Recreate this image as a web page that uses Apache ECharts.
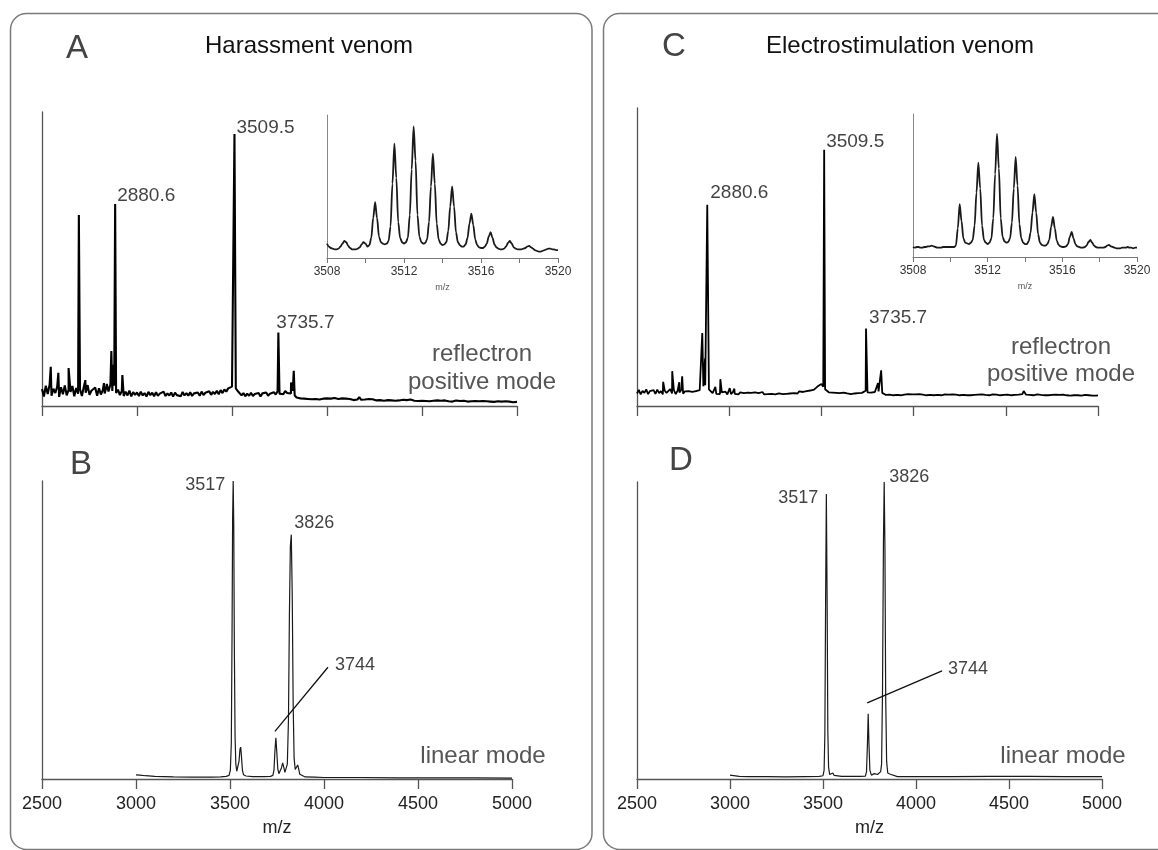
<!DOCTYPE html>
<html>
<head>
<meta charset="utf-8">
<script src="https://cdn.jsdelivr.net/npm/echarts@6.0.0/dist/echarts.min.js"></script>
<style>
html, body { margin: 0; padding: 0; background: #fff; }
#chart { width: 1158px; height: 850px; }
</style>
</head>
<body>
<div id="chart"></div>
<script>
const FONT = '"Liberation Sans", Arial, Helvetica, sans-serif'

// m/z ticks of the four main spectra
const mzTicks = [2500, 3000, 3500, 4000, 4500, 5000]

// reflectron spectra: baseline sampled every 10 m/z from 2500 to 5000
const reflStart = 2500
const reflStep = 10
const baseA = [
  5.8, 3.2, 6.9, 4.1, 7.2, 3.5, 5.9, 4.4, 6.6, 3.1,
  6.4, 4.0, 7.0, 3.6, 5.5, 4.8, 6.8, 3.3, 6.1, 4.2,
  5.7, 3.4, 6.5, 4.5, 7.1, 3.8, 5.2, 4.6, 6.3, 3.5,
  6.0, 3.9, 5.4, 4.3, 6.7, 4.9, 7.3, 5.1, 6.9, 4.4,
  5.6, 3.7, 5.1, 3.4, 4.9, 3.6, 5.2, 3.3, 4.7, 3.8,
  4.6, 3.4, 4.9, 3.6, 4.4, 3.2, 4.8, 3.7, 4.5, 3.3,
  4.7, 3.5, 4.2, 3.8, 4.9, 3.4, 4.3, 3.6, 4.6, 3.2,
  4.5, 3.7, 4.1, 3.3, 4.8, 3.6, 4.4, 3.5, 4.7, 3.4,
  4.3, 3.8, 4.6, 3.5, 4.9, 3.7, 4.5, 3.9, 5.0, 3.8,
  4.8, 4.1, 5.2, 4.0, 5.4, 4.4, 5.6, 4.9, 6.0, 5.8,
  6.6, 7.2, 6.0, 5.1, 4.6, 3.6, 4.4, 3.3, 4.2, 3.5,
  4.5, 3.4, 4.1, 3.6, 4.4, 3.2, 4.3, 3.7, 4.6, 3.5,
  4.2, 3.8, 4.7, 3.9, 5.0, 4.2, 4.6, 4.0, 5.1, 4.4,
  4.9, 4.3, 5.2, 3.6, 2.9, 3.1, 2.6, 3.0, 2.5, 2.9,
  2.4, 2.8, 2.3, 2.7, 2.4, 2.9, 2.2, 2.6, 2.5, 2.3,
  2.6, 2.2, 2.5, 2.1, 2.7, 2.3, 2.4, 2.0, 2.6, 2.2,
  2.5, 2.1, 2.4, 2.3, 2.0, 2.5, 2.2, 3.0, 2.1, 2.4,
  2.2, 1.9, 2.4, 2.0, 2.3, 2.1, 1.9, 2.4, 2.0, 2.2,
  1.8, 2.3, 2.0, 2.1, 1.9, 2.2, 1.8, 2.1, 1.9, 2.0,
  2.1, 1.8, 2.0, 1.7, 2.2, 1.9, 1.8, 2.1, 1.7, 2.0,
  1.8, 2.0, 1.7, 1.9, 1.6, 2.0, 1.8, 1.7, 1.9, 1.6,
  1.8, 1.5, 1.9, 1.7, 1.6, 1.8, 1.5, 1.7, 1.9, 1.6,
  1.7, 1.5, 1.8, 1.6, 1.5, 1.7, 1.6, 1.4, 1.7, 1.5,
  1.6, 1.4, 1.7, 1.5, 1.6, 1.4, 1.5, 1.6, 1.4, 1.5,
  1.6, 1.3, 1.5, 1.4, 1.6, 1.3, 1.5, 1.4, 1.3, 1.5,
  1.4
]
const peaksA = [
  [2546, 13.3], [2586, 11.3], [2640, 12.9], [2694, 65], [2728, 8.8],
  [2826, 7.8], [2841, 7.5], [2865, 18.7], [2875, 14], [2885, 68.7],
  [2923, 10.5], [3513, 92.5], [3744, 25], [3811, 8], [3825, 12], [4171, 3.2]
]
const baseC = [
  4.2, 5.4, 3.9, 5.1, 4.4, 5.6, 4.0, 5.0, 4.6, 5.3,
  4.1, 5.5, 4.3, 5.0, 3.9, 5.2, 4.4, 4.8, 5.7, 4.2,
  5.3, 4.0, 5.1, 4.5, 5.4, 4.1, 4.9, 4.3, 5.0, 4.4,
  4.7, 4.2, 5.0, 4.4, 5.3, 5.9, 6.6, 7.0, 6.4, 5.6,
  5.0, 4.3, 4.9, 4.1, 4.7, 4.0, 4.6, 4.2, 4.8, 3.9,
  4.5, 4.0, 4.7, 4.1, 4.4, 3.9, 4.6, 4.0, 4.3, 3.8,
  4.5, 4.1, 4.4, 3.9, 4.6, 4.0, 4.3, 4.2, 4.7, 3.9,
  4.4, 4.0, 4.6, 4.1, 4.3, 3.9, 4.5, 4.2, 4.4, 4.0,
  4.6, 4.1, 4.5, 4.2, 4.8, 4.3, 4.6, 4.2, 4.9, 4.4,
  4.7, 4.5, 5.0, 4.6, 5.2, 4.8, 5.5, 5.9, 6.6, 6.9,
  7.4, 6.5, 5.6, 5.0, 4.6, 4.2, 4.5, 4.0, 4.4, 3.9,
  4.3, 4.0, 4.5, 4.1, 4.2, 4.4, 4.0, 4.6, 4.2, 4.5,
  4.3, 4.7, 4.4, 4.9, 5.1, 4.6, 4.8, 4.5, 5.0, 4.7,
  5.2, 4.9, 5.4, 4.4, 4.0, 3.7, 4.1, 3.8, 4.0, 3.6,
  3.9, 3.7, 4.1, 3.6, 3.9, 3.8, 3.6, 4.0, 3.7, 3.9,
  3.6, 3.9, 3.7, 4.0, 3.6, 3.8, 3.9, 3.6, 3.8, 3.7,
  3.9, 3.6, 3.8, 3.7, 4.2, 3.6, 3.8, 3.9, 3.6, 3.8,
  3.7, 3.9, 3.6, 3.8, 3.7, 3.6, 3.9, 3.7, 3.8, 3.6,
  3.8, 3.6, 4.0, 3.7, 3.6, 3.8, 3.7, 3.9, 3.6, 3.7,
  3.8, 3.6, 3.7, 3.9, 3.6, 3.8, 3.7, 3.6, 3.8, 3.7,
  3.6, 3.8, 3.7, 3.6, 3.9, 3.7, 3.6, 3.8, 3.7, 4.0,
  4.4, 3.8, 3.6, 3.7, 3.8, 3.6, 3.7, 3.9, 3.6, 3.7,
  3.8, 3.6, 3.7, 3.6, 3.8, 3.7, 3.6, 3.8, 3.6, 3.7,
  3.6, 3.8, 3.7, 3.6, 3.7, 3.5, 3.7, 3.6, 3.8, 3.6,
  3.7, 3.5, 3.6, 3.7, 3.5, 3.6, 3.7, 3.5, 3.6, 3.5,
  3.6
]
const peaksC = [
  [2642, 8.1], [2691, 11.7], [2729, 8], [2745, 10], [2854, 24.5],
  [2869, 16], [2881, 67.5], [2925, 6.4], [2952, 9], [3003, 6], [3028, 5.8],
  [3515, 86], [3742, 26], [3807, 7.7], [3824, 12], [4597, 5]
]

// linear mode spectra
const linMzB = [
  3000, 3008, 3020, 3050, 3100, 3200, 3300, 3400, 3450, 3480,
  3495, 3502, 3507, 3511, 3514, 3517, 3520, 3523, 3527, 3531,
  3536, 3542, 3548, 3553, 3557, 3561, 3566, 3572, 3585, 3620,
  3680, 3715, 3728, 3734, 3739, 3744, 3749, 3754, 3760, 3766,
  3774, 3780, 3786, 3792, 3798, 3805, 3811, 3816, 3821, 3826,
  3831, 3836, 3841, 3847, 3853, 3860, 3865, 3871, 3880, 3900,
  3950, 4000, 4200, 4400, 4600, 4800, 5000
]
const linIntB = [
  1.4, 1.6, 1.3, 1.1, 0.9, 0.7, 0.6, 0.6, 0.7, 0.9,
  1.2, 3, 12, 50, 88, 100, 85, 45, 14, 5,
  2.6, 2.8, 6, 10, 10.7, 7.5, 3, 1.4, 1.0, 0.8,
  0.8, 0.9, 1.2, 3, 9.5, 13.8, 9, 3.5, 1.8, 2.0,
  3.8, 5.4, 4, 2.2, 2.4, 5, 20, 55, 78, 82,
  62, 25, 7, 3.2, 3.8, 4.7, 3.5, 1.6, 1.0, 0.7,
  0.6, 0.5, 0.5, 0.4, 0.4, 0.4, 0.3
]
const linMzD = [
  3000, 3010, 3050, 3100, 3200, 3300, 3400, 3480, 3500, 3506,
  3510, 3514, 3518, 3522, 3526, 3530, 3536, 3545, 3553, 3560,
  3600, 3700, 3728, 3734, 3739, 3743, 3747, 3752, 3760, 3770,
  3776, 3781, 3786, 3793, 3800, 3810, 3815, 3820, 3825, 3829,
  3833, 3837, 3842, 3848, 3855, 3862, 3870, 3900, 4000, 4200,
  4400, 4590, 4600, 4610, 4800, 5000
]
const linIntD = [
  1.3, 1.0, 0.9, 0.8, 0.8, 0.7, 0.8, 0.9, 1.1, 3,
  15, 60, 96, 62, 16, 4, 1.5, 1.2, 2.0, 1.2,
  0.9, 0.9, 1.0, 2.5, 12, 22, 12, 3, 1.3, 1.2,
  1.8, 2.4, 1.8, 1.5, 1.6, 2.5, 5, 30, 80, 100,
  78, 28, 6, 2, 1.4, 1.6, 1.0, 0.8, 0.8, 0.8,
  0.9, 0.9, 1.5, 0.9, 0.8, 0.8
]

// isotope insets, every 0.1 m/z from 3508 to 3520
const insetStart = 3508
const insetStep = 0.1
const insetTicks = [3508, 3512, 3516, 3520]
const insetA = [
  10, 8, 7, 6.5, 6, 6, 6.5, 8, 10, 12,
  11, 8.5, 7, 6, 6, 6, 6.5, 7.5, 9.5, 11,
  10, 8, 9, 14, 28, 39, 28, 15, 11, 10,
  9.5, 10, 12, 22, 52, 80, 56, 25, 14, 11,
  10, 11, 14, 30, 62, 92, 68, 30, 15, 11,
  10, 10.5, 13, 25, 50, 73, 52, 24, 13, 10,
  9, 9.5, 11, 19, 36, 50, 36, 18, 11, 9,
  8, 8, 9.5, 14, 24, 31, 23, 13, 9, 7.5,
  7, 7, 8, 10, 15, 18, 14, 9.5, 7.5, 6.5,
  6, 6, 6.5, 8, 10.5, 12, 10, 7.5, 6.5, 6,
  6, 6, 6.5, 7, 8, 8.5, 7.5, 6.5, 5.5, 5,
  4.5, 4.5, 5, 5.5, 6, 6.5, 6.5, 6, 6, 5.5,
  5.5
]
const insetC = [
  7, 6.5, 7, 7, 6.5, 6.5, 7, 7, 7.5, 7.5,
  8, 7.5, 7, 6.5, 6.5, 6.5, 7, 7, 7, 7,
  7, 7, 7, 8, 20, 37, 25, 13, 10, 9.5,
  9, 10, 12, 22, 45, 66, 48, 22, 12, 10,
  9, 10, 13, 27, 58, 86, 62, 27, 14, 11,
  10, 10.5, 13, 24, 48, 70, 50, 23, 13, 10,
  9, 9, 11, 17, 31, 44, 31, 16, 10, 8.5,
  8, 8, 9, 12, 21, 28, 20, 11.5, 8.5, 7.5,
  7, 7, 7.5, 9, 14, 17.5, 13, 9, 7.5, 7,
  6.5, 6.5, 7, 8, 10.5, 12, 10, 8, 7, 6.5,
  6.5, 6.5, 6.5, 7, 8, 8.5, 7.5, 7, 6.5, 6,
  6, 6, 6.5, 6.5, 6.5, 7, 6.5, 6.5, 6, 6.5,
  6.5
]

// peak annotations: [m/z, intensity, text]
const labelsA = [[3513, 92.5, '3509.5'], [2885, 68.7, '2880.6'], [3744, 25, '3735.7']]
const labelsC = [[3515, 86, '3509.5'], [2881, 67.5, '2880.6'], [3742, 26, '3735.7']]
const labelsB = [[3517, 100, '3517'], [3826, 82, '3826']]
const labelsD = [[3518, 96, '3517'], [3829, 100, '3826']]
const leaderB = [[3739, 16], [4021, 37.5]]
const leaderD = [[3738, 25.6], [4140, 36.4]]
const leaderText = '3744'

function reflSeries(base, peaks) {
  const pts = base.map((v, i) => [reflStart + i * reflStep, v])
  peaks.forEach(p => pts.push(p))
  return pts.sort((a, b) => a[0] - b[0])
}
function pairs(xs, ys) {
  return xs.map((x, i) => [x, ys[i]])
}
function insetSeries(vals) {
  return vals.map((v, i) => [+(insetStart + i * insetStep).toFixed(1), v])
}

const axisColor = '#555'

function mainX(gridIndex, withLabels) {
  return {
    type: 'value', gridIndex,
    min: mzTicks[0], max: mzTicks[mzTicks.length - 1], interval: 500,
    axisLine: { lineStyle: { color: axisColor, width: 1.3 } },
    axisTick: { length: 10, lineStyle: { color: axisColor, width: 1.3 } },
    axisLabel: {
      show: withLabels, fontSize: 18, color: '#222', fontFamily: FONT, margin: 16,
      showMinLabel: true, showMaxLabel: true,
      formatter: v => String(v)
    },
    splitLine: { show: false },
    name: withLabels ? 'm/z' : '',
    nameLocation: 'middle', nameGap: 40,
    nameTextStyle: { fontSize: 18, color: '#222', fontFamily: FONT }
  }
}
function insetX(gridIndex) {
  return {
    type: 'value', gridIndex, min: insetTicks[0], max: insetTicks[insetTicks.length - 1], interval: 2,
    axisLine: { lineStyle: { color: '#777', width: 1 } },
    axisTick: { length: 5, lineStyle: { color: '#777', width: 1 } },
    axisLabel: {
      fontSize: 12, color: '#333', fontFamily: FONT, margin: 8,
      formatter: v => insetTicks.includes(v) ? String(v) : ''
    },
    splitLine: { show: false },
    name: 'm/z', nameLocation: 'middle', nameGap: 25,
    nameTextStyle: { fontSize: 9, color: '#555', fontFamily: FONT }
  }
}
function plainY(gridIndex, color, width) {
  return {
    type: 'value', gridIndex, min: 0, max: 100,
    axisLine: { show: true, lineStyle: { color, width } },
    axisTick: { show: false }, axisLabel: { show: false }, splitLine: { show: false }
  }
}
function spectrum(idx, data, width, color) {
  return {
    type: 'line', xAxisIndex: idx, yAxisIndex: idx, data,
    showSymbol: false, symbol: 'none', silent: true,
    lineStyle: { color, width }
  }
}

// label style per annotation (align, vertical align, offset)
const lblLeftTop = (dx, dy) => ({ align: 'left', verticalAlign: 'bottom', offset: [dx, dy] })
const lblRightMid = (dx, dy) => ({ align: 'right', verticalAlign: 'middle', offset: [dx, dy] })
const lblLeftMid = (dx, dy) => ({ align: 'left', verticalAlign: 'middle', offset: [dx, dy] })

function labelSeries(idx, items, styles, size) {
  return {
    type: 'scatter', xAxisIndex: idx, yAxisIndex: idx, symbolSize: 1, silent: true,
    itemStyle: { color: 'rgba(0,0,0,0)' },
    label: { show: true, position: 'inside', fontSize: size, color: '#111', fontFamily: FONT },
    data: items.map((it, i) => ({
      value: [it[0], it[1]],
      label: Object.assign({ formatter: it[2] }, styles[i])
    }))
  }
}

const txt = (text, x, y, size, fill, align) => ({
  type: 'text', x, y, silent: true,
  style: { text, fontSize: size, fontFamily: FONT, fill, align: align || 'center', verticalAlign: 'middle' }
})

const chart = echarts.init(document.getElementById('chart'), null, { renderer: 'canvas' })
chart.setOption({
  animation: false,
  backgroundColor: '#fff',
  grid: [
    { left: 42, top: 112, width: 475, height: 294 },
    { left: 42, top: 481, width: 470, height: 298 },
    { left: 637, top: 108, width: 461, height: 298 },
    { left: 637, top: 482, width: 465, height: 297 },
    { left: 327, top: 115, width: 231, height: 143 },
    { left: 913, top: 114, width: 224, height: 143 }
  ],
  xAxis: [mainX(0, false), mainX(1, true), mainX(2, false), mainX(3, true), insetX(4), insetX(5)],
  yAxis: [
    plainY(0, axisColor, 1.3), plainY(1, axisColor, 1.3), plainY(2, axisColor, 1.3),
    plainY(3, axisColor, 1.3), plainY(4, '#888', 1), plainY(5, '#888', 1)
  ],
  series: [
    spectrum(0, reflSeries(baseA, peaksA), 2.1, '#000'),
    spectrum(1, pairs(linMzB, linIntB), 1.2, '#1a1a1a'),
    spectrum(2, reflSeries(baseC, peaksC), 1.8, '#000'),
    spectrum(3, pairs(linMzD, linIntD), 1.2, '#1a1a1a'),
    Object.assign(spectrum(4, insetSeries(insetA), 1.8, '#1a1a1a'), { smooth: 0.3, smoothMonotone: 'x' }),
    Object.assign(spectrum(5, insetSeries(insetC), 1.8, '#1a1a1a'), { smooth: 0.3, smoothMonotone: 'x' }),
    spectrum(1, leaderB, 1.3, '#111'),
    spectrum(3, leaderD, 1.3, '#111'),
    labelSeries(0, labelsA, [lblLeftTop(2, 3), lblLeftTop(2, 1), lblLeftTop(-2, 0)], 19),
    labelSeries(2, labelsC, [lblLeftTop(2, 2), lblLeftTop(3, -3), lblLeftTop(3, -1)], 19),
    labelSeries(1, labelsB.concat([[leaderB[1][0], leaderB[1][1], leaderText]]),
      [lblRightMid(-8, 4), lblLeftTop(3, -3), lblLeftMid(7, -2)], 18),
    labelSeries(3, labelsD.concat([[leaderD[1][0], leaderD[1][1], leaderText]]),
      [lblRightMid(-8, 4), lblLeftMid(5, -5), lblLeftMid(6, -2)], 18)
  ],
  graphic: [
    { type: 'rect', silent: true, z: -10,
      shape: { x: 10.5, y: 13.5, width: 581.5, height: 836, r: 16 },
      style: { fill: 'none', stroke: '#7a7a7a', lineWidth: 1.5 } },
    { type: 'rect', silent: true, z: -10,
      shape: { x: 603.5, y: 13.5, width: 575, height: 836, r: 16 },
      style: { fill: 'none', stroke: '#7a7a7a', lineWidth: 1.5 } },
    txt('A', 66, 49, 33, '#444', 'left'),
    txt('B', 70, 465, 33, '#444', 'left'),
    txt('C', 662, 47, 33, '#444', 'left'),
    txt('D', 669, 461, 33, '#444', 'left'),
    txt('Harassment venom', 309, 46, 24, '#111'),
    txt('Electrostimulation venom', 900, 46, 24, '#111'),
    txt('reflectron', 482, 354, 24, '#555'),
    txt('positive mode', 482, 382, 24, '#555'),
    txt('reflectron', 1061, 347, 24, '#555'),
    txt('positive mode', 1061, 374, 24, '#555'),
    txt('linear mode', 483, 756, 24, '#555'),
    txt('linear mode', 1063, 756, 24, '#555')
  ]
})
</script>
</body>
</html>
